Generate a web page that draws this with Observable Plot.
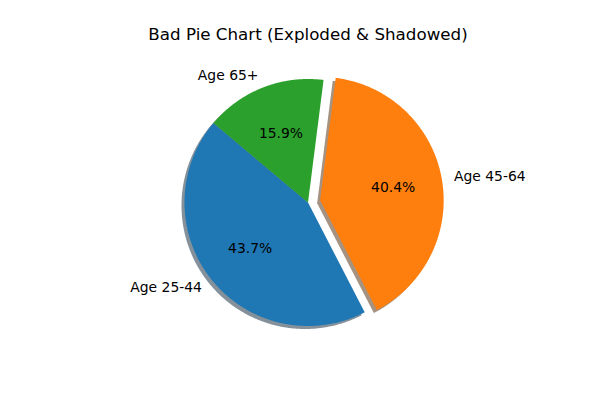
<!DOCTYPE html>
<html>
<head>
<meta charset="utf-8">
<script src="https://cdn.jsdelivr.net/npm/d3@7"></script>
<script src="https://cdn.jsdelivr.net/npm/@observablehq/plot@0.6"></script>
<style>
  html, body { margin: 0; padding: 0; background: #fff; }
</style>
</head>
<body>
<div id="chart"></div>
<script>
const title = "Bad Pie Chart (Exploded & Shadowed)";
const labels = ["Age 25-44", "Age 45-64", "Age 65+"];
const values = [43.7, 40.4, 15.9];
const explode = [0, 0.1, 0];
const colors = ["#1f77b4", "#ff7f0e", "#2ca02c"];
const startAngle = 140;

// layout
const W = 600, H = 400, R = 123.5, CX = 307.5, CY = 202;

const total = d3.sum(values);
let a = startAngle;
const slices = labels.map((label, i) => {
  const span = values[i] / total * 360;
  const a0 = a, a1 = a + span;
  a = a1;
  const mid = (a0 + a1) / 2 * Math.PI / 180;
  const ox = explode[i] * Math.cos(mid), oy = explode[i] * Math.sin(mid);
  const n = Math.max(2, Math.ceil(span * 2));
  const pts = [{x: ox, y: oy}];
  for (let k = 0; k <= n; k++) {
    const t = (a0 + (a1 - a0) * k / n) * Math.PI / 180;
    pts.push({x: ox + Math.cos(t), y: oy + Math.sin(t)});
  }
  pts.push({x: ox, y: oy});
  return {label, value: values[i], color: colors[i], pts, ox, oy, mid};
});

function shade(c) {
  const r = d3.rgb(c);
  return d3.rgb(r.r * 0.3, r.g * 0.3, r.b * 0.3).formatHex();
}

const labelData = slices.map(s => ({
  text: s.label,
  x: s.ox + 1.1 * Math.cos(s.mid),
  y: s.oy + 1.1 * Math.sin(s.mid)
}));
const pctData = slices.map(s => ({
  text: d3.format(".1f")(s.value) + "%",
  x: s.ox + 0.6 * Math.cos(s.mid),
  y: s.oy + 0.6 * Math.sin(s.mid)
}));

const marks = [];
slices.forEach(s => {
  marks.push(Plot.line(s.pts, {x: "x", y: "y", fill: shade(s.color), fillOpacity: 0.5, stroke: "none", dx: -3, dy: 3}));
});
slices.forEach(s => {
  marks.push(Plot.line(s.pts, {x: "x", y: "y", fill: s.color, stroke: "none"}));
});
marks.push(Plot.text(labelData.filter(d => d.x >= 0), {x: "x", y: "y", text: "text", textAnchor: "start", fontSize: 13.9, fill: "#000"}));
marks.push(Plot.text(labelData.filter(d => d.x < 0), {x: "x", y: "y", text: "text", textAnchor: "end", fontSize: 13.9, fill: "#000"}));
marks.push(Plot.text(pctData, {x: "x", y: "y", text: "text", textAnchor: "middle", fontSize: 13.9, fill: "#000"}));
marks.push(Plot.text([title], {frameAnchor: "top", lineAnchor: "middle", dx: 7.5, dy: 34, text: d => d, fontSize: 16.7, fill: "#000"}));

const chart = Plot.plot({
  width: W,
  height: H,
  margin: 0,
  x: {type: "linear", domain: [-CX / R, (W - CX) / R], range: [0, W], axis: null},
  y: {type: "linear", domain: [-(H - CY) / R, CY / R], range: [H, 0], axis: null},
  style: {fontFamily: "DejaVu Sans", background: "#fff"},
  marks
});
document.getElementById("chart").appendChild(chart);
</script>
</body>
</html>
